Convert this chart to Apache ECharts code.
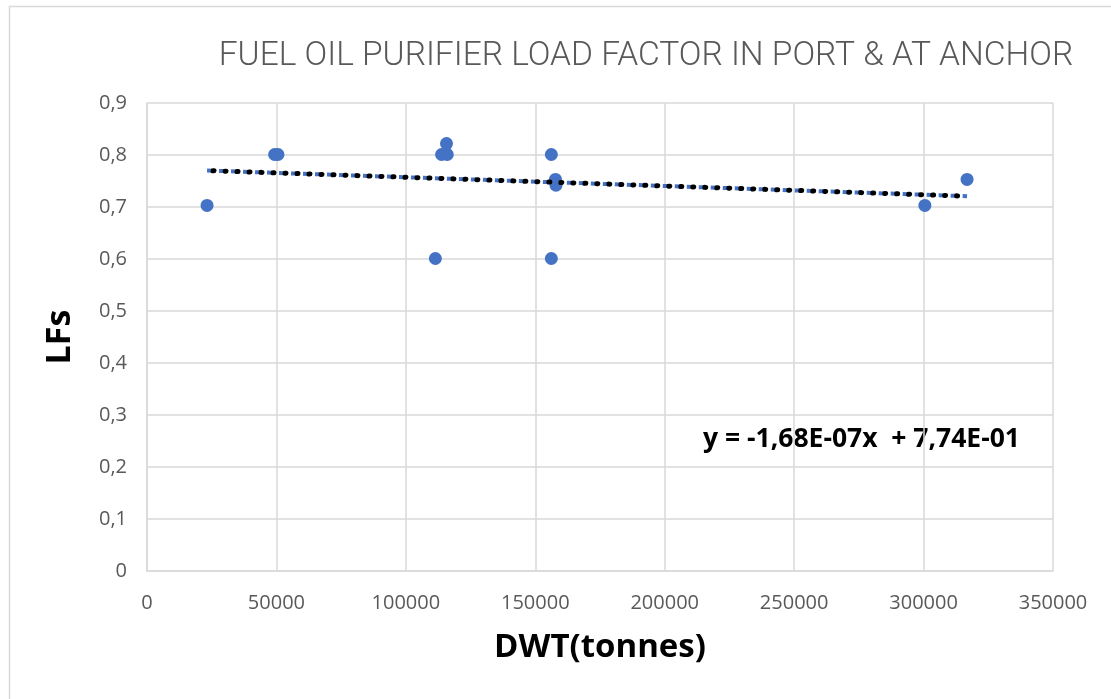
<!DOCTYPE html>
<html><head><meta charset="utf-8">
<script src="https://cdn.jsdelivr.net/npm/echarts@6/dist/echarts.min.js"></script>
<style>html,body{margin:0;padding:0;background:#fff}#c{width:1111px;height:699px}</style>
</head><body><div id="c"></div>
<script>
const dwt = [23200, 49300, 50600, 111400, 113800, 116000, 115700, 156200, 156200, 157800, 158000, 300500, 316800];
const lf  = [0.703, 0.801, 0.801, 0.601, 0.801, 0.801, 0.822, 0.801, 0.601, 0.753, 0.742, 0.703, 0.753];
const slope = -1.68e-7, intercept = 0.774;
const trendX = [23200, 316800];
const xTicks = [0, 50000, 100000, 150000, 200000, 250000, 300000, 350000];
const yTicks = [0, 0.1, 0.2, 0.3, 0.4, 0.5, 0.6, 0.7, 0.8, 0.9];
const titleText = 'FUEL OIL PURIFIER LOAD FACTOR IN PORT & AT ANCHOR';
const eqText = 'y = -1,68E-07x  + 7,74E-01';

const pts = dwt.map((x, i) => [x, lf[i]]);
const trend = trendX.map(x => [x, slope * x + intercept]);

const chart = echarts.init(document.getElementById('c'), null, {renderer: 'canvas'});
chart.setOption({
  animation: false,
  title: {
    text: titleText, left: 641, top: 35, textAlign: 'center',
    textStyle: {fontFamily: 'Roboto', fontWeight: 300, fontSize: 33.5, color: '#595959'}
  },
  grid: {left: 147, right: 58, top: 103, bottom: 128},
  xAxis: {
    type: 'value', min: 0, max: 350000, interval: 50000,
    name: 'DWT(tonnes)', nameLocation: 'middle', nameGap: 60,
    nameTextStyle: {fontFamily: 'Open Sans', fontWeight: 'bold', fontSize: 33, color: '#000'},
    axisLine: {show: true, lineStyle: {color: '#d9d9d9', width: 1.5}},
    axisTick: {show: false},
    splitLine: {show: true, lineStyle: {color: '#d9d9d9', width: 1.5}},
    axisLabel: {fontFamily: 'Open Sans', fontSize: 20, color: '#595959', margin: 22,
      formatter: v => String(v)}
  },
  yAxis: {
    type: 'value', min: 0, max: 0.9, interval: 0.1,
    name: 'LFs', nameLocation: 'middle', nameGap: 70, nameRotate: 90,
    nameTextStyle: {fontFamily: 'Open Sans', fontWeight: 'bold', fontSize: 34, color: '#000'},
    axisLine: {show: true, lineStyle: {color: '#d9d9d9', width: 1.5}},
    axisTick: {show: false},
    splitLine: {show: true, lineStyle: {color: '#d9d9d9', width: 1.5}},
    axisLabel: {fontFamily: 'Open Sans', fontSize: 20, color: '#595959', margin: 20,
      formatter: v => String(Math.round(v * 10) / 10).replace('.', ',')}
  },
  graphic: [
    {type: 'rect', left: 7, top: 4, shape: {width: 1120, height: 720},
     style: {fill: 'none', stroke: '#d9d9d9', lineWidth: 1.5}, silent: true},
    {type: 'text', left: 703, top: 426,
     style: {text: eqText, fontFamily: 'Open Sans', fontWeight: 'bold', fontSize: 26.5, fill: '#000'}}
  ],
  series: [
    {type: 'scatter', data: pts, symbolSize: 13, itemStyle: {color: '#4472C4', opacity: 1}, z: 3},
    {type: 'line', data: trend, symbol: 'none', z: 4,
     lineStyle: {color: '#4472C4', width: 4, type: [5, 7]}},
    {type: 'line', data: trend, symbol: 'none', z: 5,
     lineStyle: {color: '#000', width: 5, type: [1, 11], cap: 'round', dashOffset: 6}}
  ]
});
</script></body></html>
